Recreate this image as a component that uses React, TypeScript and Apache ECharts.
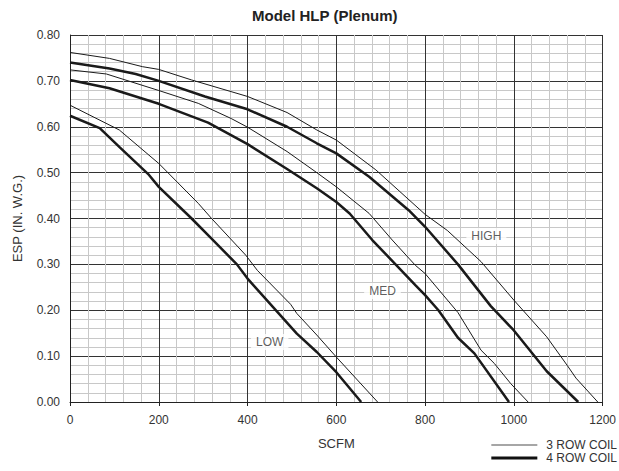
import React, { useEffect, useRef } from "react";
import * as echarts from "echarts";

const highThin: [number, number][] = [
  [0, 0.762], [89, 0.749], [163, 0.731], [200, 0.725], [274, 0.702], [400, 0.666],
  [489, 0.631], [556, 0.593], [600, 0.571], [689, 0.506], [800, 0.409], [850, 0.374],
  [926, 0.306], [1000, 0.222], [1074, 0.142], [1120, 0.08], [1140, 0.052], [1189, 0],
];
const highThick: [number, number][] = [
  [0, 0.74], [89, 0.727], [148, 0.715], [200, 0.7], [304, 0.666], [400, 0.638],
  [489, 0.6], [556, 0.564], [600, 0.542], [674, 0.491], [763, 0.418], [800, 0.382],
  [874, 0.3], [948, 0.209], [1000, 0.156], [1074, 0.067], [1145, 0],
];
const medThin: [number, number][] = [
  [0, 0.724], [82, 0.715], [200, 0.679], [289, 0.651], [363, 0.618], [400, 0.599],
  [489, 0.546], [556, 0.5], [600, 0.469], [674, 0.411], [726, 0.353], [778, 0.298],
  [800, 0.28], [874, 0.195], [926, 0.113], [956, 0.084], [993, 0.04], [1032, 0],
];
const medThick: [number, number][] = [
  [0, 0.702], [89, 0.684], [200, 0.65], [311, 0.609], [400, 0.562], [489, 0.508],
  [556, 0.466], [600, 0.436], [630, 0.411], [681, 0.353], [778, 0.255], [800, 0.233],
  [830, 0.2], [874, 0.14], [911, 0.106], [989, 0],
];
const lowThin: [number, number][] = [
  [0, 0.647], [111, 0.593], [178, 0.538], [200, 0.52], [289, 0.433], [319, 0.4],
  [396, 0.32], [422, 0.287], [497, 0.213], [511, 0.193], [556, 0.146], [600, 0.098], [693, 0],
];
const lowThick: [number, number][] = [
  [0, 0.624], [67, 0.597], [111, 0.556], [178, 0.495], [200, 0.469], [274, 0.4],
  [315, 0.36], [376, 0.3], [400, 0.269], [511, 0.149], [556, 0.109],
  [600, 0.065], [656, 0],
];

const curveLabels: { name: string; value: [number, number] }[] = [
  { name: "HIGH", value: [938, 0.362] },
  { name: "MED", value: [704, 0.242] },
  { name: "LOW", value: [450, 0.131] },
];

const legendNames = ["3 ROW COIL", "4 ROW COIL"];
const titleText = "Model HLP (Plenum)";
const xName = "SCFM";
const yName = "ESP (IN. W.G.)";

const FONT = "Liberation Sans, Arial, sans-serif";
const LINE = "#1a1a1a";

export default function App() {
  const ref = useRef<HTMLDivElement>(null);
  useEffect(() => {
    if (!ref.current) return;
    const chart = echarts.init(ref.current, null, { renderer: "svg" });
    const mk = (name: string, data: [number, number][], w: number) => ({
      type: "line",
      name,
      data,
      symbol: "none",
      smooth: false,
      lineStyle: { color: LINE, width: w },
      itemStyle: { color: LINE },
      z: 3,
    });
    chart.setOption({
      animation: false,
      textStyle: { fontFamily: FONT },
      title: {
        text: titleText,
        left: 252,
        top: 8,
        padding: 0,
        textStyle: { fontSize: 15, fontWeight: "bold", color: "#222", fontFamily: FONT },
      },
      grid: { left: 70, right: 9, top: 35, bottom: 69, containLabel: false },
      legend: {
        data: [
          { name: legendNames[0], icon: "path://M0,0H46V1.5H0Z", itemStyle: { color: "#888" } },
          { name: legendNames[1], icon: "path://M0,0H46V3.2H0Z", itemStyle: { color: "#111" } },
        ],
        orient: "vertical",
        right: 2,
        top: 439,
        padding: 0,
        itemWidth: 46,
        itemHeight: 12,
        itemGap: 1,
        symbolKeepAspect: true,
        textStyle: { fontSize: 12, color: "#333", fontFamily: FONT, padding: [0, 0, 0, 4] },
        selectedMode: false,
      },
      xAxis: {
        type: "value",
        min: 0,
        max: 1200,
        interval: 200,
        name: xName,
        nameLocation: "middle",
        nameGap: 35,
        nameTextStyle: { fontSize: 13, color: "#333", fontFamily: FONT },
        axisLine: { show: true, lineStyle: { color: "#222", width: 1 } },
        axisTick: { show: true, length: 4, lineStyle: { color: "#222" } },
        axisLabel: {
          fontSize: 12,
          color: "#333",
          margin: 12,
          fontFamily: FONT,
          formatter: (v: number) => String(v),
        },
        splitLine: { show: true, lineStyle: { color: "#333", width: 1 } },
        minorTick: { show: false, splitNumber: 5 },
        minorSplitLine: { show: true, lineStyle: { color: "#c8c8c8", width: 1 } },
      },
      yAxis: {
        type: "value",
        min: 0,
        max: 0.8,
        interval: 0.1,
        name: yName,
        nameLocation: "middle",
        nameGap: 46,
        nameTextStyle: { fontSize: 13, color: "#333", fontFamily: FONT },
        axisLine: { show: true, lineStyle: { color: "#222", width: 1 } },
        axisTick: { show: false },
        axisLabel: {
          fontSize: 12,
          color: "#333",
          margin: 10,
          fontFamily: FONT,
          formatter: (v: number) => v.toFixed(2),
        },
        splitLine: { show: true, lineStyle: { color: "#333", width: 1 } },
        minorTick: { show: false, splitNumber: 5 },
        minorSplitLine: { show: true, lineStyle: { color: "#c8c8c8", width: 1 } },
      },
      series: [
        mk(legendNames[0], highThin, 1),
        mk(legendNames[1], highThick, 2.5),
        mk(legendNames[0], medThin, 1),
        mk(legendNames[1], medThick, 2.5),
        mk(legendNames[0], lowThin, 1),
        mk(legendNames[1], lowThick, 2.5),
        {
          type: "scatter",
          name: "labels",
          data: curveLabels,
          symbolSize: 0,
          z: 5,
          label: {
            show: true,
            position: "inside",
            formatter: (p: any) => p.name,
            fontSize: 12,
            color: "#333",
            fontFamily: FONT,
            backgroundColor: "#fff",
            padding: [2, 5],
          },
        },
      ],
    });
    return () => chart.dispose();
  }, []);
  return (
    <div
      ref={ref}
      style={{ position: "fixed", left: 0, top: 0, width: 619, height: 471, background: "#fff" }}
    />
  );
}
